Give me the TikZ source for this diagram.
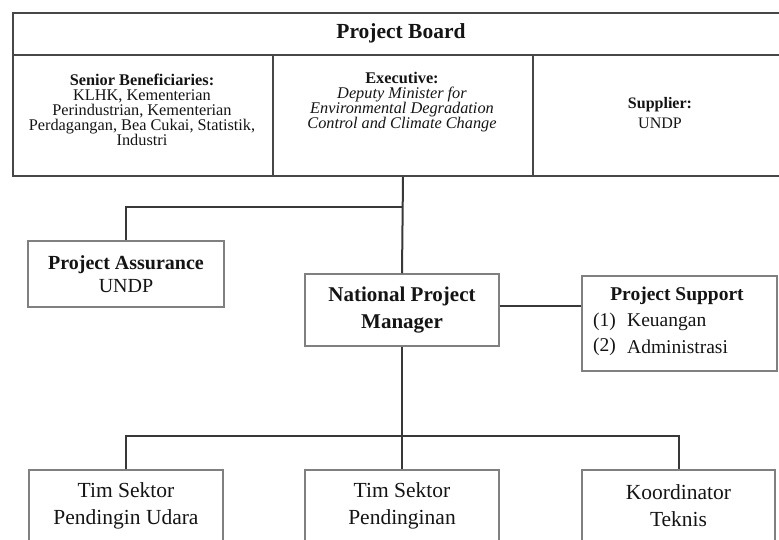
\documentclass[tikz,border=0pt]{standalone}
\usepackage{fontspec}
\setmainfont{Liberation Serif}
\begin{document}
\begin{tikzpicture}[x=1pt,y=-1pt,
  conn/.style={draw=black!78, line width=2pt},
  boardline/.style={draw=black!72, line width=2pt, rectangle, inner sep=0pt, anchor=north west},
  boxline/.style={draw=black!50, line width=1.5pt, rectangle, inner sep=0pt, align=center, text=black!92},
  celltext/.style={align=center, inner sep=0pt, text=black!92, font=\fontsize{16.3}{15}\selectfont},
  bigbold/.style={font=\fontsize{21}{26.5}\selectfont},
  lowtext/.style={font=\fontsize{21.5}{27}\selectfont}]
\useasboundingbox (0,0) rectangle (779,540);
\clip (0,0) rectangle (779,540);

% Project Board
\node[boardline, minimum width=778pt, minimum height=42pt] (pb) at (12,12) {};
\node[anchor=base, inner sep=0pt, text=black!92, font=\fontsize{21.5}{26}\selectfont\bfseries] (pbt) at (401,38.5) {Project Board};
\node[boardline, minimum width=260pt, minimum height=121pt] (sb) at (12,54) {};
\node[boardline, minimum width=260pt, minimum height=121pt] (ex) at (272,54) {};
\node[boardline, minimum width=258pt, minimum height=121pt] (su) at (532,54) {};

\node[celltext] (sbt) at (142,109.5) {\textbf{Senior Beneficiaries:}\\KLHK, Kementerian\\Perindustrian, Kementerian\\Perdagangan, Bea Cukai, Statistik,\\Industri};
\node[celltext] (ext) at (402,102) {\textbf{Executive:}\\\textit{Deputy Minister for}\\\textit{Environmental Degradation}\\\textit{Control and Climate Change}};
\node[celltext, font=\fontsize{16}{20.5}\selectfont] (sut) at (660,113) {\textbf{Supplier:}\\UNDP};

% second level
\node[boxline, minimum width=196pt, minimum height=66pt, font=\fontsize{20}{22.5}\selectfont] (pa) at (126,274) {\textbf{Project Assurance}\\UNDP};
\node[boxline, minimum width=194pt, minimum height=72pt, bigbold] (npm) at (402,310) {\textbf{National Project}\\\textbf{Manager}};
\node[boxline, minimum width=195pt, minimum height=95pt] (ps) at (679.5,323.5) {};
\node[inner sep=0pt, text=black!92, font=\fontsize{19.5}{24}\selectfont\bfseries] (pst) at (677,296) {Project Support};
\node[anchor=west, inner sep=0pt, text=black!92, font=\fontsize{19.5}{24}\selectfont] (ps1) at (593,322) {(1)};
\node[anchor=west, inner sep=0pt, text=black!92, font=\fontsize{19.5}{24}\selectfont] (ps1t) at (627,322) {Keuangan};
\node[anchor=west, inner sep=0pt, text=black!92, font=\fontsize{19.5}{24}\selectfont] (ps2) at (593,347) {(2)};
\node[anchor=west, inner sep=0pt, text=black!92, font=\fontsize{19.5}{24}\selectfont] (ps2t) at (627,347) {Administrasi};

% bottom level
\node[boxline, minimum width=194pt, minimum height=72pt, lowtext] (b1) at (126,506) {Tim Sektor\\Pendingin Udara};
\node[boxline, minimum width=194pt, minimum height=72pt, lowtext] (b2) at (402,506) {Tim Sektor\\Pendinginan};
\node[boxline, minimum width=193pt, minimum height=72pt, lowtext] (b3) at (678.5,506) {Koordinator\\Teknis};

% connectors
\coordinate (j1) at (402,207);
\coordinate (j2) at (402,436);
\draw[conn] (ex.south) -- (npm.north);
\draw[conn] (j1) -| (pa.north);
\draw[conn] (npm.east) ++(0,-4) coordinate (a) -- (a -| ps.west);
\draw[conn] (npm.south) -- (b2.north);
\draw[conn] (b1.north) |- (j2) -| (b3.north);
\end{tikzpicture}
\end{document}
